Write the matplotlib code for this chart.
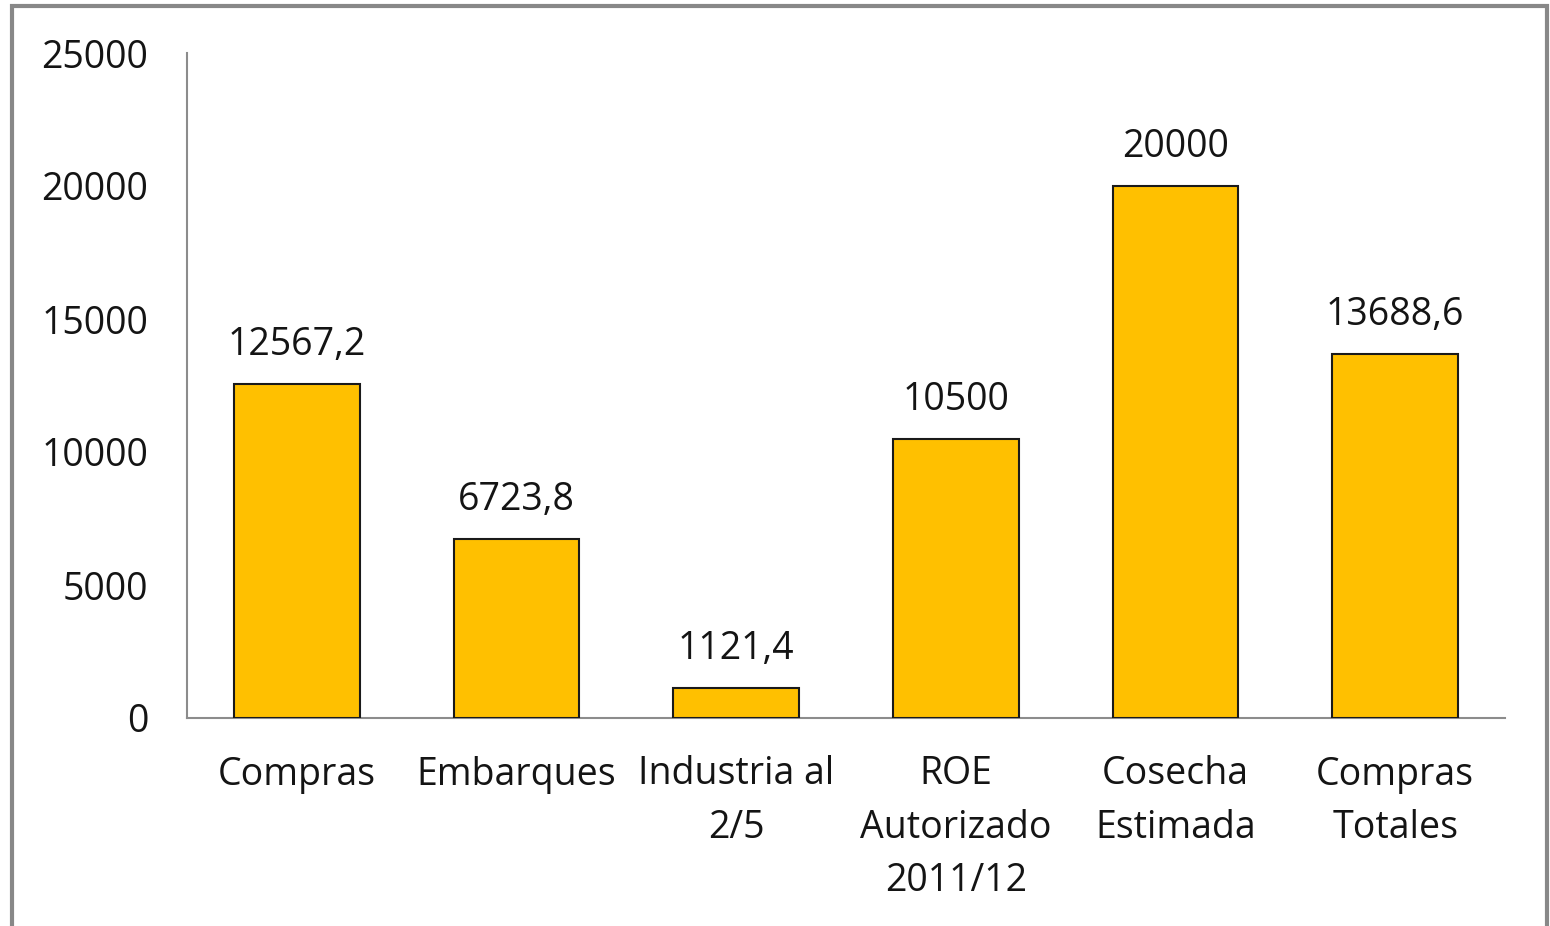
import matplotlib
matplotlib.use("Agg")
import matplotlib.pyplot as plt
from matplotlib.patches import Rectangle

categories = ["Compras", "Embarques", "Industria al\n2/5", "ROE\nAutorizado\n2011/12",
              "Cosecha\nEstimada", "Compras\nTotales"]
values = [12567.2, 6723.8, 1121.4, 10500, 20000, 13688.6]
value_labels = ["12567,2", "6723,8", "1121,4", "10500", "20000", "13688,6"]
yticks = [0, 5000, 10000, 15000, 20000, 25000]

plt.rcParams['font.family'] = ['Open Sans', 'DejaVu Sans']

fig = plt.figure(figsize=(15.5, 9.26), dpi=100)
ax = fig.add_axes([187/1550, 1-718/926, (1505-187)/1550, (718-53)/926])

x = range(len(categories))
bars = ax.bar(x, values, width=0.573, color="#FFC000", edgecolor="#1a1a1a", linewidth=1.5, zorder=3)

for xi, v, lab in zip(x, values, value_labels):
    ax.annotate(lab, (xi, v), xytext=(0, 14.5), textcoords="offset points",
                ha="center", va="bottom", fontsize=27, color="#141414")

ax.set_xlim(-0.5, len(categories) - 0.5)
ax.set_ylim(0, 25000)
ax.set_yticks(yticks)
ax.set_yticklabels([str(t) for t in yticks])
ax.set_xticks(list(x))
ax.set_xticklabels(categories, linespacing=1.52)

for s in ["top", "right"]:
    ax.spines[s].set_visible(False)
for s in ["left", "bottom"]:
    ax.spines[s].set_color("#8c8c8c")
    ax.spines[s].set_linewidth(1.5)

ax.tick_params(axis="both", length=0, labelsize=27, labelcolor="#141414")
ax.tick_params(axis="y", pad=28)
ax.tick_params(axis="x", pad=27)

fig.patches.append(Rectangle((12/1550, -0.1), (1547-12)/1550, 1.1 - 6/926,
                             transform=fig.transFigure, fill=False,
                             edgecolor="#888888", linewidth=3))

fig.savefig("out.png", dpi=100)
